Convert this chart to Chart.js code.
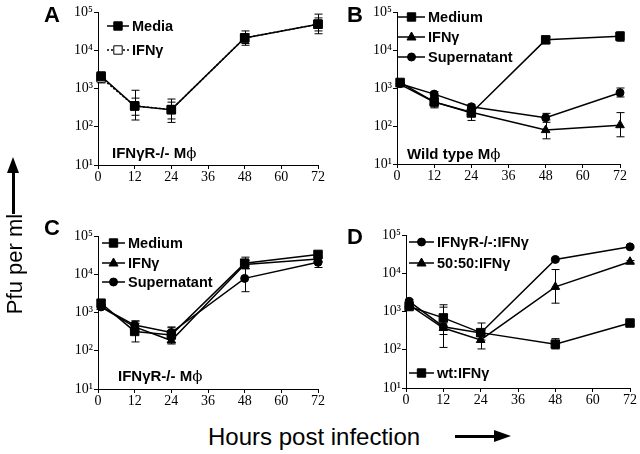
<!DOCTYPE html>
<html>
<head>
<meta charset="utf-8">
<script src="https://cdn.jsdelivr.net/npm/chart.js@4.4.0/dist/chart.umd.min.js"></script>
<style>
  body { margin:0; background:#fff; width:640px; height:454px; position:relative; overflow:hidden;
         font-family:"Liberation Sans", Arial, sans-serif; color:#000; }
  canvas { position:absolute; }
  .txt { position:absolute; white-space:nowrap; line-height:1; font-weight:bold; }
  .letter { font-size:22px; }
  .note { font-size:15px; }
  .phi { font-family:"DejaVu Serif", serif; font-weight:normal; }
</style>
</head>
<body>
<canvas id="pA" width="330" height="192" style="left:0;top:0"></canvas>
<canvas id="pB" width="320" height="192" style="left:320px;top:0"></canvas>
<canvas id="pC" width="330" height="222" style="left:0;top:192px"></canvas>
<canvas id="pD" width="320" height="222" style="left:320px;top:192px"></canvas>

<div class="txt letter" style="left:44px;top:4px">A</div>
<div class="txt letter" style="left:347px;top:4px">B</div>
<div class="txt letter" style="left:44px;top:217px">C</div>
<div class="txt letter" style="left:347px;top:226px">D</div>

<div class="txt note" style="left:112px;top:145px">IFNγR-/- M<span class="phi">ϕ</span></div>
<div class="txt note" style="left:407px;top:146px">Wild type M<span class="phi">ϕ</span></div>
<div class="txt note" style="left:118px;top:368px">IFNγR-/- M<span class="phi">ϕ</span></div>

<!-- axis titles with arrows -->
<div class="txt" style="font-weight:normal;font-size:22px;left:-45px;top:252px;width:120px;height:24px;line-height:24px;text-align:center;transform:rotate(-90deg)">Pfu per ml</div>
<div style="position:absolute;left:12px;top:171px;width:3px;height:43px;background:#000"></div>
<div style="position:absolute;left:7px;top:157px;width:0;height:0;border-left:6px solid transparent;border-right:6px solid transparent;border-bottom:16px solid #000"></div>

<div class="txt" style="font-weight:normal;font-size:24px;left:208px;top:425px">Hours post infection</div>
<div style="position:absolute;left:455px;top:435px;width:40px;height:3px;background:#000"></div>
<div style="position:absolute;left:494px;top:430px;width:0;height:0;border-top:6px solid transparent;border-bottom:6px solid transparent;border-left:17px solid #000"></div>

<script>
// ================= Data =================
const hours = [1, 12, 24, 48, 72];
const xTicks = [0, 12, 24, 36, 48, 60, 72];
const yTicks = [10, 100, 1000, 10000, 100000];

// Panel A - IFNgR-/- macrophages
const aMedia   = [2100, 350, 280, 21000, 48000];
const aMediaLo = [1500, 150, 130, 13500, 27000];
const aMediaHi = [2700, 900, 530, 32000, 88000];
const aIfn     = [1900, 350, 280, 21000, 48000];
const aIfnLo   = [1400, 200, 160, 15000, 32000];
const aIfnHi   = [2500, 560, 440, 27000, 70000];

// Panel B - wild type macrophages
const bMedium   = [1400, 430, 220, 18500, 23000];
const bMediumLo = [1200, 320, 140, 15500, 17000];
const bMediumHi = [1600, 560, 340, 22000, 30000];
const bIfn      = [1250, 430, 230, 78, 105];
const bIfnLo    = [1100, 300, 180, 46, 52];
const bIfnHi    = [1400, 600, 300, 145, 225];
const bSup      = [1300, 690, 320, 165, 750];
const bSupLo    = [1150, 600, 280, 125, 580];
const bSupHi    = [1450, 800, 370, 215, 1000];

// Panel C - IFNgR-/- macrophages
const cMedium   = [1750, 320, 260, 19500, 33000];
const cMediumLo = [1500, 170, 200, 14000, 28000];
const cMediumHi = [2000, 600, 420, 28000, 38000];
const cIfn      = [1400, 420, 185, 18000, 25000];
const cIfnLo    = [1250, 330, 150, 14000, 20000];
const cIfnHi    = [1600, 520, 230, 23000, 30000];
const cSup      = [1400, 470, 300, 7800, 20500];
const cSupLo    = [1250, 380, 240, 3500, 15000];
const cSupHi    = [1600, 600, 400, 14000, 26000];

// Panel D - mixed cultures
const dKo     = [1850, 400, 275, 23000, 49000];
const dKoLo   = [1650, 115, 230, 21000, 46000];
const dKoHi   = [2050, 1500, 330, 25000, 52000];
const dMix    = [1500, 370, 180, 4400, 20000];
const dMixLo  = [1300, 250, 105, 1650, 18500];
const dMixHi  = [1700, 500, 250, 12500, 21500];
const dWt     = [1350, 680, 280, 140, 500];
const dWtLo   = [1200, 330, 180, 105, 460];
const dWtHi   = [1500, 1300, 500, 195, 540];

const SUP = { 1: '¹', 2: '²', 3: '³', 4: '⁴', 5: '⁵' };

// ================= Plugins =================
const errorBars = {
  id: 'errorBars',
  beforeDatasetsDraw(chart) {
    const ctx = chart.ctx, ys = chart.scales.y;
    ctx.save();
    ctx.strokeStyle = '#000';
    ctx.lineWidth = 1;
    chart.data.datasets.forEach((ds, i) => {
      if (!ds.errLo) return;
      chart.getDatasetMeta(i).data.forEach((pt, j) => {
        const x = Math.round(pt.x) + 0.5;
        const y0 = ys.getPixelForValue(ds.errLo[j]);
        const y1 = ys.getPixelForValue(ds.errHi[j]);
        ctx.beginPath();
        ctx.moveTo(x, y0); ctx.lineTo(x, y1);
        ctx.moveTo(x - 4, y0); ctx.lineTo(x + 4, y0);
        ctx.moveTo(x - 4, y1); ctx.lineTo(x + 4, y1);
        ctx.stroke();
      });
    });
    ctx.restore();
  }
};

function drawMarker(ctx, style, x, y, fill) {
  ctx.beginPath();
  if (style === 'rect') {
    ctx.rect(x - 4.2, y - 4.2, 8.4, 8.4);
  } else if (style === 'triangle') {
    ctx.moveTo(x, y - 5);
    ctx.lineTo(x + 4.5, y + 3);
    ctx.lineTo(x - 4.5, y + 3);
    ctx.closePath();
  } else {
    ctx.arc(x, y, 4, 0, Math.PI * 2);
  }
  ctx.fillStyle = fill;
  ctx.fill();
  ctx.lineWidth = 1;
  ctx.strokeStyle = '#000';
  ctx.stroke();
}

const panelLegend = {
  id: 'panelLegend',
  afterDraw(chart, args, opts) {
    const ctx = chart.ctx;
    opts.items.forEach(it => {
      const ds = chart.data.datasets[it.ds];
      ctx.save();
      ctx.strokeStyle = '#000';
      ctx.lineWidth = 1.5;
      ctx.setLineDash(ds.borderDash || []);
      ctx.beginPath();
      ctx.moveTo(opts.x1, it.y);
      ctx.lineTo(opts.x2, it.y);
      ctx.stroke();
      ctx.setLineDash([]);
      drawMarker(ctx, ds.pointStyle, (opts.x1 + opts.x2) / 2, it.y, ds.pointBackgroundColor);
      ctx.font = 'bold 14.5px "Liberation Sans", Arial, sans-serif';
      ctx.textBaseline = 'middle';
      ctx.fillStyle = '#000';
      ctx.fillText(ds.label, opts.x2 + 3, it.y + 1);
      ctx.restore();
    });
  }
};

// ================= Chart builder =================
function series(label, data, lo, hi, style, fill, dash) {
  return {
    label, data: data.map((v, i) => ({ x: hours[i], y: v })),
    errLo: lo, errHi: hi,
    borderColor: '#000', borderWidth: 1.5, borderDash: dash || [],
    pointStyle: style, pointBackgroundColor: fill, pointBorderColor: '#000', pointBorderWidth: 1,
    pointRadius: style === 'rect' ? 6 : (style === 'triangle' ? 5 : 4),
    tension: 0, clip: false
  };
}

function makePanel(id, datasets, box, legend) {
  const tickFont = { family: '"Liberation Serif", "Times New Roman", serif', size: 14 };
  const yFont = { family: '"DejaVu Serif", serif', size: 12 };
  return new Chart(document.getElementById(id), {
    type: 'line',
    data: { datasets },
    plugins: [errorBars, panelLegend],
    options: {
      responsive: false,
      animation: false,
      layout: { padding: { left: 0, top: box.top, right: box.right, bottom: 0 } },
      plugins: { legend: { display: false }, tooltip: { enabled: false }, panelLegend: legend },
      scales: {
        x: {
          type: 'linear', min: 0, max: 72,
          afterBuildTicks: s => { s.ticks = xTicks.map(v => ({ value: v })); },
          afterFit: s => { s.height = box.xh; },
          ticks: { color: '#000', font: tickFont, padding: 0, maxRotation: 0 },
          grid: { drawOnChartArea: false, drawTicks: true, tickLength: 4, color: '#000' },
          border: { display: true, color: '#000', width: 1 }
        },
        y: {
          type: 'logarithmic', min: 10, max: 100000,
          afterBuildTicks: s => { s.ticks = yTicks.map(v => ({ value: v })); },
          afterFit: s => { s.width = box.yw; },
          ticks: { color: '#000', font: tickFont, padding: 1,
                   callback: v => '10' + SUP[Math.round(Math.log10(v))] },
          grid: { drawOnChartArea: false, drawTicks: true, tickLength: 4, color: '#000' },
          border: { display: true, color: '#000', width: 1 }
        }
      }
    }
  });
}

// ================= Panels =================
makePanel('pA', [
  series('Media', aMedia, aMediaLo, aMediaHi, 'rect', '#000'),
  series('IFNγ', aIfn, aIfnLo, aIfnHi, 'rect', '#fff', [2, 2])
], { top: 12, right: 12, yw: 98, xh: 27 },
{ x1: 107, x2: 129, items: [{ ds: 0, y: 26 }, { ds: 1, y: 50 }] });

makePanel('pB', [
  series('Medium', bMedium, bMediumLo, bMediumHi, 'rect', '#000'),
  series('IFNγ', bIfn, bIfnLo, bIfnHi, 'triangle', '#000'),
  series('Supernatant', bSup, bSupLo, bSupHi, 'circle', '#000')
], { top: 12, right: 20, yw: 77, xh: 28 },
{ x1: 78, x2: 105, items: [{ ds: 0, y: 17 }, { ds: 1, y: 37 }, { ds: 2, y: 57 }] });

makePanel('pC', [
  series('Medium', cMedium, cMediumLo, cMediumHi, 'rect', '#000'),
  series('IFNγ', cIfn, cIfnLo, cIfnHi, 'triangle', '#000'),
  series('Supernatant', cSup, cSupLo, cSupHi, 'circle', '#000')
], { top: 44, right: 12, yw: 98, xh: 25 },
{ x1: 102, x2: 125, items: [{ ds: 0, y: 51 }, { ds: 1, y: 71 }, { ds: 2, y: 90 }] });

makePanel('pD', [
  series('IFNγR-/-:IFNγ', dKo, dKoLo, dKoHi, 'circle', '#000'),
  series('50:50:IFNγ', dMix, dMixLo, dMixHi, 'triangle', '#000'),
  series('wt:IFNγ', dWt, dWtLo, dWtHi, 'rect', '#000')
], { top: 43, right: 10, yw: 86, xh: 26 },
{ x1: 89, x2: 114, items: [{ ds: 0, y: 50 }, { ds: 1, y: 71 }, { ds: 2, y: 181 }] });
</script>
</body>
</html>
